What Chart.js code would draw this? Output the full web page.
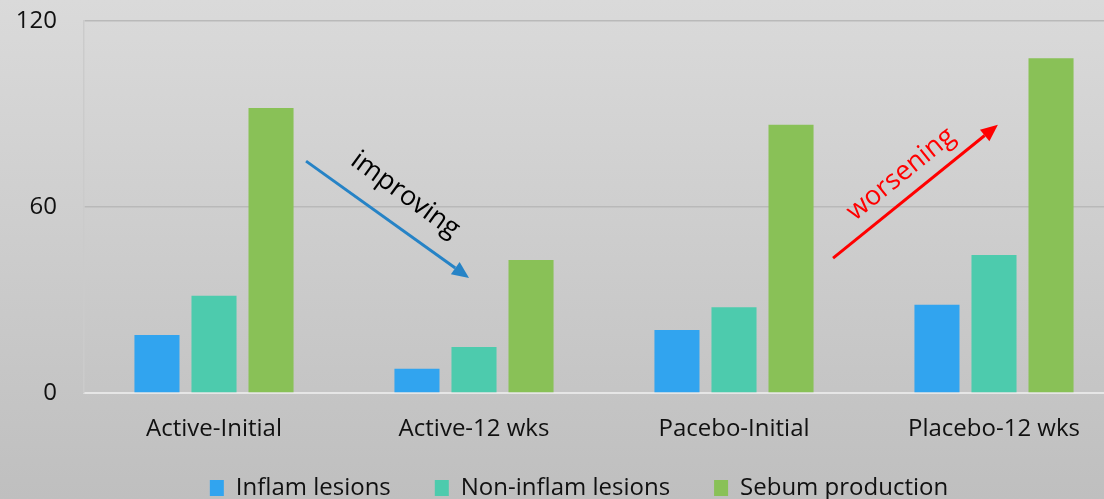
<!DOCTYPE html>
<html>
<head>
<meta charset="utf-8">
<script src="https://cdn.jsdelivr.net/npm/chart.js@4/dist/chart.umd.min.js"></script>
<style>
  html, body { margin: 0; padding: 0; overflow: hidden; }
  #wrap {
    width: 1104px; height: 499px; overflow: hidden;
    background: linear-gradient(#dadada, #bfbfbf);
  }
  canvas { display: block; }
</style>
</head>
<body>
<div id="wrap"><canvas id="acneChart" width="1158" height="543"></canvas></div>
<script>
// Chart values
const groups = ['Active-Initial', 'Active-12 wks', 'Pacebo-Initial', 'Placebo-12 wks'];
const inflamLesions = [18.7, 7.8, 20.3, 28.5];
const nonInflamLesions = [31.4, 14.8, 27.7, 44.5];
const sebumProduction = [91.9, 42.9, 86.5, 108];
const yTicks = [0, 60, 120];

// Arrow notes, placed in data coordinates (category index, value)
const notes = [
  { text: 'improving', color: '#000000', arrow: '#2683c6', from: [0.354, 74.8], to: [0.981, 37.1], label: [0.735, 63.9], angle: 36 },
  { text: 'worsening', color: '#ff0000', arrow: '#ff0000', from: [2.381, 43.5], to: [3.015, 86.5], label: [2.642, 70.6], angle: -39 }
];

const FONT = "'Open Sans', sans-serif";

const notesPlugin = {
    id: 'notes',
    afterDatasetsDraw(chart) {
        const { ctx, scales: { x, y } } = chart;
        notes.forEach(n => {
            const x1 = x.getPixelForValue(n.from[0]), y1 = y.getPixelForValue(n.from[1]);
            const x2 = x.getPixelForValue(n.to[0]), y2 = y.getPixelForValue(n.to[1]);
            const a = Math.atan2(y2 - y1, x2 - x1);
            const head = 17, half = 7.5;
            ctx.save();
            ctx.strokeStyle = n.arrow;
            ctx.fillStyle = n.arrow;
            ctx.lineWidth = 3;
            ctx.beginPath();
            ctx.moveTo(x1, y1);
            ctx.lineTo(x2 - Math.cos(a) * head, y2 - Math.sin(a) * head);
            ctx.stroke();
            ctx.beginPath();
            ctx.moveTo(x2, y2);
            ctx.lineTo(x2 - Math.cos(a) * head - Math.sin(a) * half, y2 - Math.sin(a) * head + Math.cos(a) * half);
            ctx.lineTo(x2 - Math.cos(a) * head + Math.sin(a) * half, y2 - Math.sin(a) * head - Math.cos(a) * half);
            ctx.closePath();
            ctx.fill();

            ctx.translate(x.getPixelForValue(n.label[0]), y.getPixelForValue(n.label[1]));
            ctx.rotate(n.angle * Math.PI / 180);
            ctx.font = '27px ' + FONT;
            ctx.fillStyle = n.color;
            ctx.textAlign = 'center';
            ctx.textBaseline = 'middle';
            ctx.fillText(n.text, 0, 0);
            ctx.restore();
        });
    }
};

// nudge the legend row to where the original sits (centred on the whole slide, a bit higher)
const legendNudge = {
    id: 'legendNudge',
    afterLayout(chart) {
        const l = chart.legend;
        l.left += 17; l.right += 17;
        l.top -= 33; l.bottom -= 33;
    }
};

const ctx = document.getElementById('acneChart').getContext('2d');
const chart = new Chart(ctx, {
    type: 'bar',
    data: {
        labels: groups,
        datasets: [
            { label: 'Inflam lesions', data: inflamLesions, backgroundColor: '#31a4ef' },
            { label: 'Non-inflam lesions', data: nonInflamLesions, backgroundColor: '#4dcbad' },
            { label: 'Sebum production', data: sebumProduction, backgroundColor: '#89c157' }
        ]
    },
    options: {
        responsive: false,
        animation: false,
        devicePixelRatio: 1,
        categoryPercentage: 0.658,
        barPercentage: 0.79,
        layout: { padding: { top: 21, right: 34, bottom: 0, left: 0 } },
        plugins: {
            tooltip: { enabled: false },
            legend: {
                position: 'bottom',
                labels: {
                    boxWidth: 14,
                    boxHeight: 16,
                    padding: 44,
                    color: '#111111',
                    font: { family: FONT, size: 24 }
                }
            }
        },
        scales: {
            x: {
                grid: { display: false, drawTicks: false },
                border: { color: '#e6e6e6', width: 2 },
                ticks: { color: '#111111', padding: 21.6, font: { family: FONT, size: 24 } }
            },
            y: {
                min: 0,
                max: 120,
                afterBuildTicks: s => { s.ticks = yTicks.map(v => ({ value: v })); },
                grid: {
                    drawTicks: true,
                    tickLength: 27,
                    tickColor: 'rgba(0,0,0,0)',
                    color: c => c.tick.value === 0 ? 'rgba(0,0,0,0)' : '#b9b9b9',
                    lineWidth: 1.5
                },
                border: { color: '#cbcbcb', width: 1.5 },
                ticks: { color: '#111111', padding: 0, font: { family: FONT, size: 24 } },
                afterFit: s => { s.width = 84; }
            }
        }
    },
    plugins: [notesPlugin, legendNudge]
});
</script>
</body>
</html>
